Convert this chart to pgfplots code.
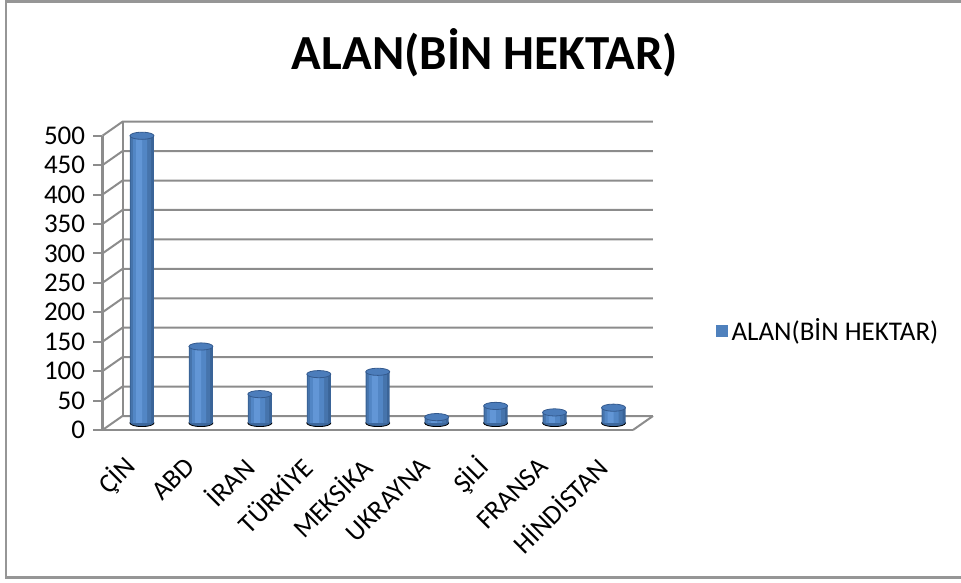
\documentclass[border=0pt]{standalone}
\usepackage{pgfplots}
\usepackage{pgfplotstable}
\pgfplotsset{compat=1.18}
\usepackage{fontspec}
\setmainfont{Carlito}
\definecolor{gridcol}{RGB}{140,140,140}
\definecolor{framecol}{RGB}{150,150,150}
\definecolor{barmid}{RGB}{79,129,189}
\definecolor{barA}{RGB}{58,100,152}
\definecolor{barB}{RGB}{70,116,172}
\definecolor{barC}{RGB}{82,134,197}
\definecolor{barD}{RGB}{98,150,214}
\definecolor{barbot}{RGB}{60,103,156}
\definecolor{bartop}{RGB}{76,125,187}
\definecolor{bartopedge}{RGB}{52,90,142}
\pgfplotstableread{
x  v  z
0.5 488 0
1.5 130 0
2.5 49 0
3.5 83 0
4.5 87 0
5.5 10 0
6.5 29 0
7.5 18 0
8.5 26 0
}\datatable
\pgfplotsset{
  cylaxis/.style={
    at={(5pt,3.5pt)}, anchor=south west,
    scale only axis, width=265.25pt, height=147.15pt,
    xmin=0, xmax=9, ymin=0, ymax=500,
    hide axis, clip=false,
  },
}
\begin{document}
\begin{tikzpicture}
\useasboundingbox (-51.25pt,-76pt) rectangle (429.25pt,215pt);
\draw[framecol, line width=1.3pt] (429.25pt,214.3pt) -- (-48.25pt,214.3pt) -- (-48.25pt,-73.75pt) -- (429.25pt,-73.75pt);
% front axis with 3D wall decorations
\begin{axis}[
  at={(0pt,0pt)}, anchor=south west,
  scale only axis, width=265.25pt, height=147.15pt,
  xmin=0, xmax=9, ymin=0, ymax=500,
  axis lines*=left,
  axis line style={gridcol, line width=1pt},
  xtick={0.5,1.5,...,8.5},
  xticklabels={ÇİN,ABD,İRAN,TÜRKİYE,MEKSİKA,UKRAYNA,ŞİLİ,FRANSA,HİNDİSTAN},
  major x tick style={draw=none},
  extra x ticks={0,1,...,9},
  extra x tick labels={},
  extra x tick style={tick style={gridcol, line width=1pt}, major tick length=4.5pt, tick align=outside},
  ytick={0,50,...,500},
  major y tick style={gridcol, line width=1pt},
  major tick length=4.5pt,
  tick align=outside,
  tick label style={font=\fontsize{13.5}{15}\selectfont, text=black},
  xticklabel style={xshift=-0.5pt, yshift=-11.5pt, rotate=45, anchor=east, inner sep=0pt},
  yticklabel style={inner sep=0pt, xshift=-4pt},
  /pgf/number format/assume math mode=true,
  clip=false,
]
\pgfplotsinvokeforeach{0,50,...,500}{
  \draw[gridcol, line width=1pt] (axis cs:0,#1) -- ([shift={(10pt,7pt)}]axis cs:0,#1) -- ([shift={(10pt,7pt)}]axis cs:9,#1);
}
\draw[gridcol, line width=1pt] ([shift={(10pt,7pt)}]axis cs:0,0) -- ([shift={(10pt,7pt)}]axis cs:0,500);
\draw[gridcol, line width=1pt] (axis cs:9,0) -- ([shift={(10pt,7pt)}]axis cs:9,0);
\end{axis}
% cylinder bottoms
\begin{axis}[cylaxis]
\addplot[only marks, mark=*, mark size=6pt, mark options={yscale=0.3, fill=barbot, draw=none}] table[x=x, y=z] {\datatable};
\end{axis}
% cylinder bodies and tops, in the middle of the depth
\begin{axis}[cylaxis,
  legend style={draw=none, fill=none, at={(1.136,0.3126)}, anchor=west,
    font=\fontsize{13.5}{15}\selectfont, inner sep=0pt},
  legend image code/.code={\fill[barmid] (0pt,-3pt) rectangle (6pt,3pt);},
]
\addplot[ybar, bar width=12pt, bar shift=0pt, draw=none, fill=barA] table[x=x, y=v] {\datatable};
\addlegendentry{ALAN(BİN HEKTAR)}
\addplot[ybar, bar width=10pt, bar shift=-0.4pt, draw=none, fill=barB, forget plot] table[x=x, y=v] {\datatable};
\addplot[ybar, bar width=7pt, bar shift=-0.9pt, draw=none, fill=barC, forget plot] table[x=x, y=v] {\datatable};
\addplot[ybar, bar width=3pt, bar shift=-1.4pt, draw=none, fill=barD, forget plot] table[x=x, y=v] {\datatable};
\addplot[only marks, mark=*, mark size=6pt, mark options={yscale=0.3, fill=bartop, draw=bartopedge, line width=0.4pt}, forget plot] table[x=x, y=v] {\datatable};
\end{axis}
\node[font=\fontsize{24.5}{28}\selectfont\bfseries] at (191.25pt,188.5pt) {ALAN(BİN HEKTAR)};
\end{tikzpicture}
\end{document}
